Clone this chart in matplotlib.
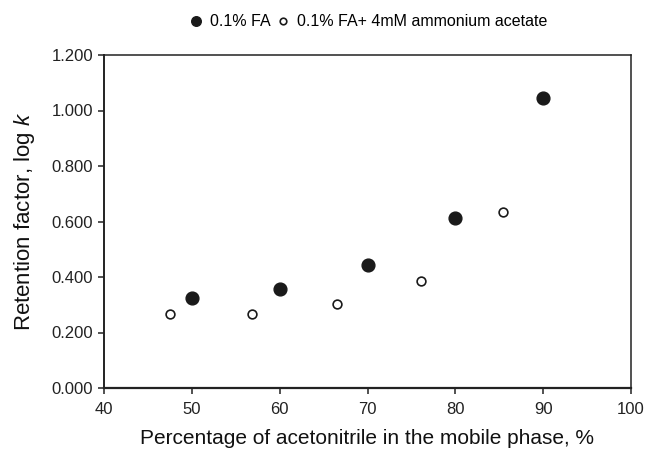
import numpy as np
import matplotlib
matplotlib.use('Agg')
from matplotlib import pyplot as plt

plt.rcParams['font.family'] = ['Liberation Sans', 'DejaVu Sans']
plt.rcParams['mathtext.fontset'] = 'custom'
plt.rcParams['mathtext.it'] = 'Liberation Sans:italic'
plt.rcParams['mathtext.rm'] = 'Liberation Sans'

# 0.1% FA
acn_fa = [50, 60, 70, 80, 90]
logk_fa = [0.324, 0.358, 0.442, 0.611, 1.046]
# 0.1% FA + 4mM ammonium acetate
acn_amm = [47.5, 56.9, 66.5, 76.1, 85.4]
logk_amm = [0.268, 0.268, 0.301, 0.386, 0.635]

x_ticks = [40, 50, 60, 70, 80, 90, 100]
y_ticks = [0.0, 0.2, 0.4, 0.6, 0.8, 1.0, 1.2]

fig = plt.figure(figsize=(6.47, 4.51), dpi=100)
ax = fig.add_axes([104 / 647, 1 - 388 / 451, (631 - 104) / 647, (388 - 55) / 451])

ax.plot(acn_fa, logk_fa, 'o', ls='none', color='#1a1a1a', ms=9.2, label='0.1% FA')
ax.plot(acn_amm, logk_amm, 'o', ls='none', mfc='white', mec='#1a1a1a', mew=1.2, ms=6.3,
        label='0.1% FA+ 4mM ammonium acetate')

ax.set_xlim(40, 100)
ax.set_ylim(0, 1.2)
ax.set_xticks(x_ticks)
ax.set_yticks(y_ticks)
ax.set_yticklabels([f"{v:.3f}" for v in y_ticks])
ax.tick_params(direction='out', length=4, width=1.1, colors='#222222', labelsize=12)
ax.tick_params(axis='x', pad=6)
ax.tick_params(axis='y', pad=4)
for s in ax.spines.values():
    s.set_color('#222222')
    s.set_linewidth(1.1)
ax.spines['bottom'].set_linewidth(1.6)
ax.spines['left'].set_linewidth(1.4)

ax.set_xlabel('Percentage of acetonitrile in the mobile phase, %', fontsize=15, color='#111111', labelpad=9)
ax.set_ylabel('Retention factor, log $k$', fontsize=16, color='#111111', labelpad=10)

leg = ax.legend(loc='center', bbox_to_anchor=(0.5, 1 + 33 / 333), ncol=2, frameon=False,
                fontsize=11.5, handletextpad=0.37, columnspacing=0.3, handlelength=1.0,
                markerscale=0.75)

fig.savefig('out.png', dpi=100)
